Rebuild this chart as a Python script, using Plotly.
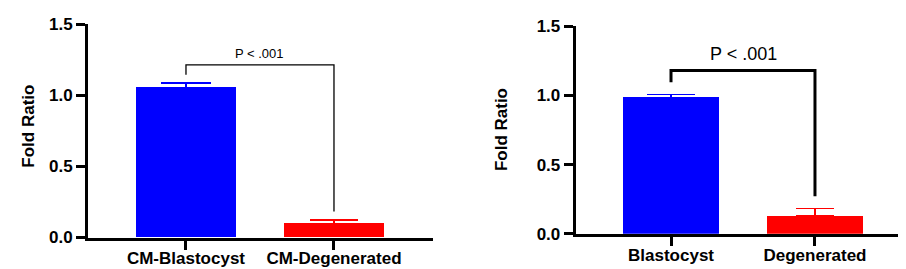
import plotly.graph_objects as go

# ---- data ----
left_categories = ["CM-Blastocyst", "CM-Degenerated"]
left_values = [1.056, 0.098]
left_errors = [0.031, 0.022]

right_categories = ["Blastocyst", "Degenerated"]
right_values = [0.987, 0.130]
right_errors = [0.020, 0.053]

y_ticks = [0.0, 0.5, 1.0, 1.5]
y_tick_labels = ["0.0", "0.5", "1.0", "1.5"]

left_bracket_y = [1.146, 1.216, 1.216, 0.183]
right_bracket_y = [1.096, 1.181, 1.181, 0.272]
p_text = "P < .001"
y_title = "Fold Ratio"

W, H = 906, 269
FONT = "Arial, Liberation Sans, Helvetica, sans-serif"
BLUE = "#0000FF"
RED = "#FF0000"
colors = [BLUE, RED]

fig = go.Figure()

for i, c in enumerate(colors):
    fig.add_trace(go.Bar(
        x=[left_categories[i]], y=[left_values[i]], xaxis="x", yaxis="y",
        marker=dict(color=c, line=dict(width=0)), width=0.67,
        error_y=dict(type="data", array=[left_errors[i]], arrayminus=[0], symmetric=False,
                     color=c, thickness=2, width=25 if i == 0 else 24),
        showlegend=False, hoverinfo="skip"))
for i, c in enumerate(colors):
    fig.add_trace(go.Bar(
        x=[right_categories[i]], y=[right_values[i]], xaxis="x2", yaxis="y2",
        marker=dict(color=c, line=dict(width=0)), width=0.665,
        error_y=dict(type="data", array=[right_errors[i]], arrayminus=[0], symmetric=False,
                     color=c, thickness=1.5, width=24 if i == 0 else 19),
        showlegend=False, hoverinfo="skip"))

# brackets
fig.add_trace(go.Scatter(
    x=[left_categories[0], left_categories[0], left_categories[1], left_categories[1]],
    y=left_bracket_y, xaxis="x", yaxis="y", mode="lines",
    line=dict(color="black", width=1.3), showlegend=False, hoverinfo="skip"))
fig.add_trace(go.Scatter(
    x=[right_categories[0], right_categories[0], right_categories[1], right_categories[1]],
    y=right_bracket_y, xaxis="x2", yaxis="y2", mode="lines",
    line=dict(color="black", width=3), showlegend=False, hoverinfo="skip"))

axis_common = dict(showline=True, linecolor="black", linewidth=3, ticks="outside",
                   ticklen=9, tickwidth=3, tickcolor="black", showgrid=False,
                   zeroline=False,
                   tickfont=dict(family=FONT, size=17, color="black", weight="bold"))

fig.update_layout(
    width=W, height=H, margin=dict(l=0, r=0, t=0, b=0),
    paper_bgcolor="white", plot_bgcolor="white", bargap=0,
    xaxis=dict(domain=[80 / W, 425 / W], anchor="y", type="category",
               range=[-0.662, 1.669], ticklabelstandoff=-6, **axis_common),
    yaxis=dict(domain=[(H - 237.3) / H, (H - 8) / H], anchor="x",
               range=[0, 1.5], tickvals=y_ticks, ticktext=y_tick_labels, **axis_common),
    xaxis2=dict(domain=[567.7 / W, 903.3 / W], anchor="y2", type="category",
                range=[-0.662, 1.669], ticklabelstandoff=-5, **axis_common),
    yaxis2=dict(domain=[(H - 233.3) / H, (H - 10) / H], anchor="x2",
                range=[0, 1.5], tickvals=y_ticks, ticktext=y_tick_labels, **axis_common),
)

fig.add_annotation(x=0.5, y=1.296, xref="x", yref="y", text=p_text, showarrow=False,
                   font=dict(family=FONT, size=13, color="black"))
fig.add_annotation(x=0.5, y=1.297, xref="x2", yref="y2", text=p_text, showarrow=False,
                   font=dict(family=FONT, size=18, color="black"))
fig.add_annotation(x=9.5 / W, y=(H - 118) / H, xref="paper", yref="paper", text=y_title,
                   textangle=-90, showarrow=False,
                   font=dict(family=FONT, size=17, color="black", weight="bold"))
fig.add_annotation(x=493 / W, y=(H - 121.7) / H, xref="paper", yref="paper", text=y_title,
                   textangle=-90, showarrow=False,
                   font=dict(family=FONT, size=17, color="black", weight="bold"))

fig.write_html("out.html")
